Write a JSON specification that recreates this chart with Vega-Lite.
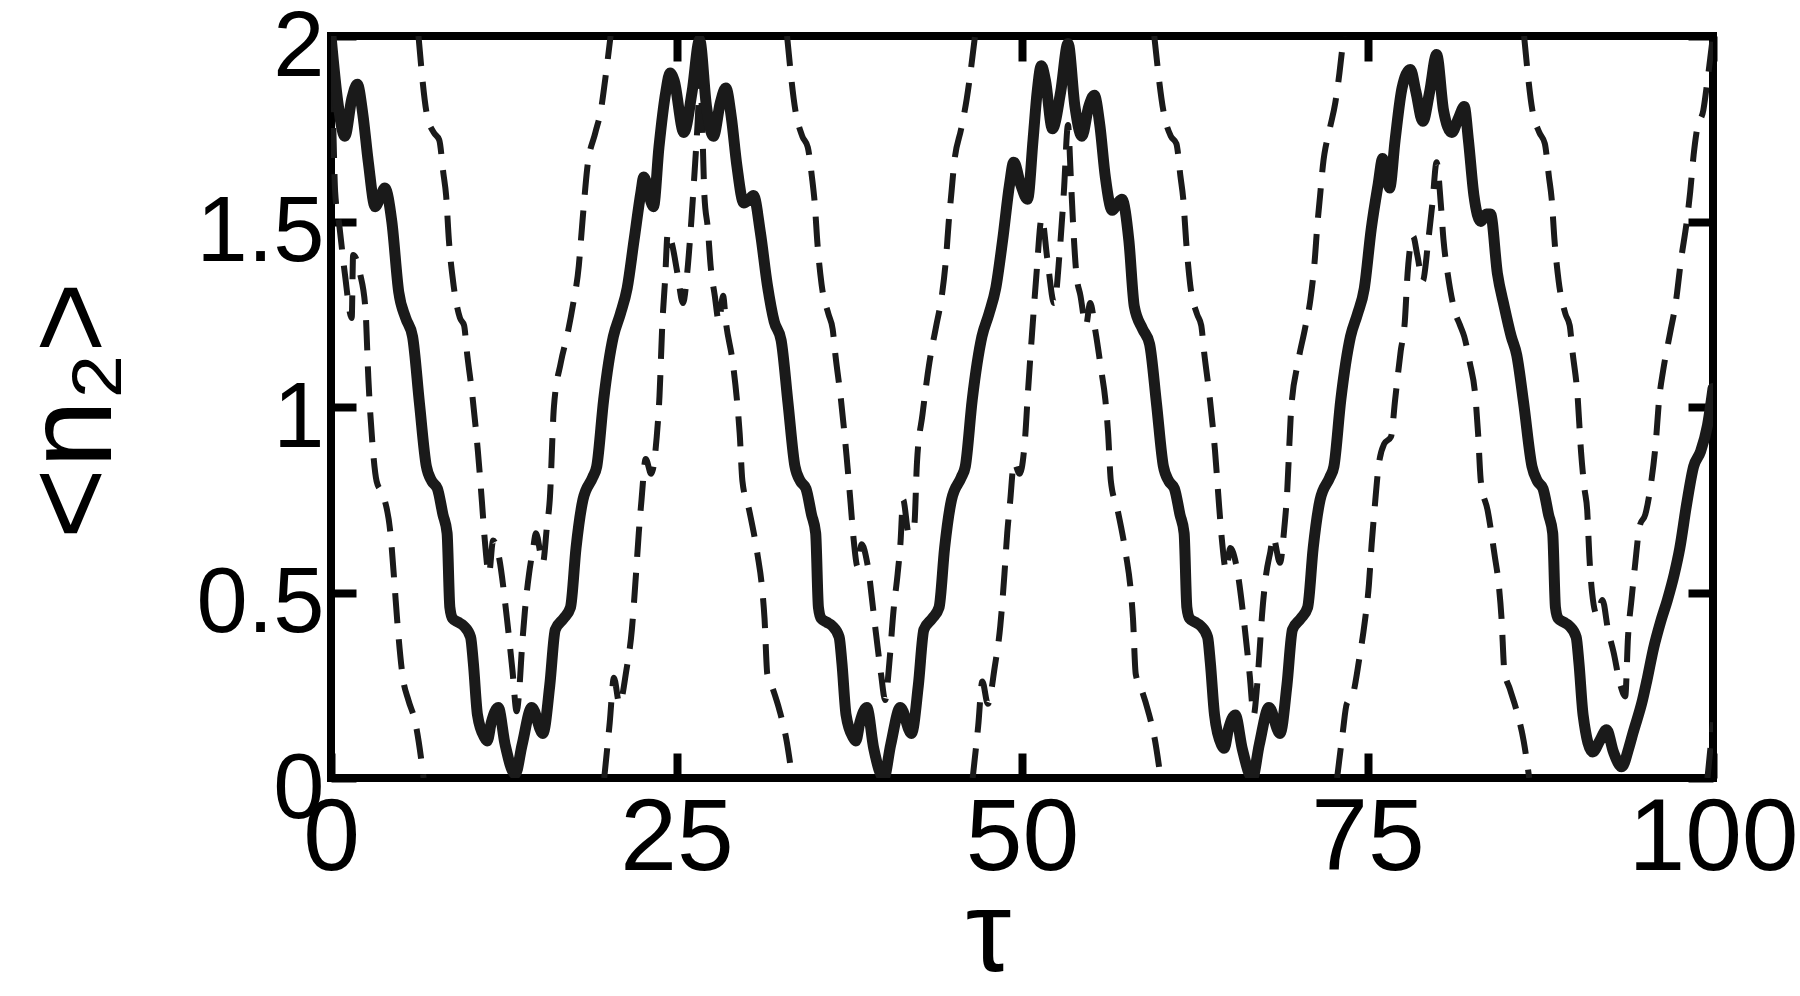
{
"$schema":"https://vega.github.io/schema/vega-lite/v6.json",
"width":1382,"height":742,
"autosize":{"type":"none"},
"padding":{"left":331,"top":36,"right":87,"bottom":218},
"background":"white",
"config":{
 "view":{"stroke":"#000000","strokeWidth":8},
 "axis":{"domain":false,"grid":false,"ticks":true,"tickColor":"#000000","tickWidth":8,"tickSize":-25,"labelColor":"#000000","labelFont":"Liberation Sans","titleFont":"Liberation Sans","titleColor":"#000000","titleFontWeight":"normal","labelFlush":false,"labelOverlap":false,"labelLimit":0}
},
"datasets":{
"mean":[
{"t":0,"v":2.0},{"t":0.5,"v":1.82},{"t":1.0,"v":1.73},{"t":1.5,"v":1.83},{"t":1.9,"v":1.87},{"t":2.3,"v":1.79},{"t":2.7,"v":1.66},{"t":3.2,"v":1.54},{"t":3.6,"v":1.57},{"t":3.9,"v":1.59},{"t":4.4,"v":1.5},{"t":4.9,"v":1.31},{"t":5.4,"v":1.24},{"t":5.9,"v":1.19},{"t":6.4,"v":1.01},{"t":6.9,"v":0.84},{"t":7.3,"v":0.8},{"t":7.7,"v":0.78},{"t":8.1,"v":0.71},{"t":8.4,"v":0.66},{"t":8.6,"v":0.46},{"t":8.8,"v":0.43},{"t":9.2,"v":0.42},{"t":9.6,"v":0.41},{"t":10.1,"v":0.38},{"t":10.3,"v":0.31},{"t":10.6,"v":0.17},{"t":11.1,"v":0.11},{"t":11.3,"v":0.1},{"t":11.6,"v":0.15},{"t":12.1,"v":0.19},{"t":12.6,"v":0.09},{"t":13.33,"v":0.01},
{"t":13.83,"v":0.09},{"t":14.53,"v":0.19},{"t":15.33,"v":0.12},{"t":15.83,"v":0.25},{"t":16.23,"v":0.4},{"t":16.83,"v":0.43},{"t":17.33,"v":0.46},{"t":17.73,"v":0.62},{"t":18.23,"v":0.75},{"t":18.93,"v":0.81},{"t":19.23,"v":0.84},{"t":19.73,"v":1.02},{"t":20.43,"v":1.19},{"t":20.93,"v":1.25},{"t":21.43,"v":1.32},{"t":21.93,"v":1.45},{"t":22.43,"v":1.58},{"t":22.63,"v":1.62},{"t":23.33,"v":1.54},{"t":23.73,"v":1.7},{"t":24.23,"v":1.85},{"t":24.53,"v":1.9},{"t":24.83,"v":1.88},{"t":25.53,"v":1.74},{"t":26.13,"v":1.85},{"t":26.67,"v":1.99},
{"t":27.17,"v":1.81},{"t":27.67,"v":1.73},{"t":28.17,"v":1.82},{"t":28.57,"v":1.86},{"t":28.97,"v":1.78},{"t":29.37,"v":1.65},{"t":29.87,"v":1.55},{"t":30.27,"v":1.56},{"t":30.57,"v":1.57},{"t":31.07,"v":1.47},{"t":31.57,"v":1.33},{"t":32.07,"v":1.23},{"t":32.57,"v":1.18},{"t":33.07,"v":1.01},{"t":33.57,"v":0.84},{"t":33.97,"v":0.8},{"t":34.37,"v":0.78},{"t":34.77,"v":0.71},{"t":35.07,"v":0.66},{"t":35.27,"v":0.46},{"t":35.47,"v":0.43},{"t":35.87,"v":0.42},{"t":36.27,"v":0.41},{"t":36.77,"v":0.38},{"t":36.97,"v":0.31},{"t":37.27,"v":0.17},{"t":37.77,"v":0.11},{"t":37.97,"v":0.1},{"t":38.27,"v":0.15},{"t":38.77,"v":0.19},{"t":39.27,"v":0.08},{"t":40.0,"v":0.0},
{"t":40.5,"v":0.09},{"t":41.2,"v":0.19},{"t":42.0,"v":0.12},{"t":42.5,"v":0.25},{"t":42.9,"v":0.4},{"t":43.5,"v":0.43},{"t":44.0,"v":0.46},{"t":44.4,"v":0.62},{"t":44.9,"v":0.75},{"t":45.6,"v":0.81},{"t":45.9,"v":0.84},{"t":46.4,"v":1.02},{"t":47.1,"v":1.19},{"t":47.6,"v":1.25},{"t":48.1,"v":1.32},{"t":48.6,"v":1.45},{"t":49.1,"v":1.6},{"t":49.4,"v":1.66},{"t":49.9,"v":1.6},{"t":50.4,"v":1.56},{"t":50.8,"v":1.72},{"t":51.1,"v":1.85},{"t":51.4,"v":1.92},{"t":51.7,"v":1.88},{"t":52.2,"v":1.75},{"t":52.8,"v":1.85},{"t":53.33,"v":1.98},
{"t":53.83,"v":1.81},{"t":54.33,"v":1.73},{"t":54.83,"v":1.81},{"t":55.23,"v":1.84},{"t":55.63,"v":1.76},{"t":56.03,"v":1.62},{"t":56.53,"v":1.53},{"t":56.93,"v":1.55},{"t":57.23,"v":1.56},{"t":57.73,"v":1.45},{"t":58.13,"v":1.27},{"t":58.73,"v":1.21},{"t":59.23,"v":1.17},{"t":59.73,"v":1.01},{"t":60.23,"v":0.84},{"t":60.63,"v":0.8},{"t":61.03,"v":0.78},{"t":61.43,"v":0.71},{"t":61.73,"v":0.66},{"t":61.93,"v":0.46},{"t":62.13,"v":0.43},{"t":62.53,"v":0.42},{"t":62.93,"v":0.41},{"t":63.43,"v":0.38},{"t":63.63,"v":0.31},{"t":63.93,"v":0.17},{"t":64.43,"v":0.09},{"t":64.63,"v":0.08},{"t":64.93,"v":0.13},{"t":65.43,"v":0.17},{"t":65.93,"v":0.08},{"t":66.67,"v":0.0},
{"t":67.17,"v":0.09},{"t":67.87,"v":0.19},{"t":68.67,"v":0.12},{"t":69.17,"v":0.25},{"t":69.57,"v":0.4},{"t":70.17,"v":0.43},{"t":70.67,"v":0.46},{"t":71.07,"v":0.62},{"t":71.57,"v":0.75},{"t":72.27,"v":0.81},{"t":72.57,"v":0.84},{"t":73.07,"v":1.02},{"t":73.77,"v":1.19},{"t":74.27,"v":1.25},{"t":74.77,"v":1.32},{"t":75.27,"v":1.48},{"t":75.77,"v":1.6},{"t":76.1,"v":1.67},{"t":76.6,"v":1.59},{"t":77.0,"v":1.72},{"t":77.5,"v":1.86},{"t":78.1,"v":1.91},{"t":78.5,"v":1.85},{"t":79.0,"v":1.77},{"t":79.5,"v":1.85},{"t":80.0,"v":1.95},
{"t":80.5,"v":1.8},{"t":81.1,"v":1.74},{"t":81.6,"v":1.78},{"t":82.0,"v":1.81},{"t":82.3,"v":1.72},{"t":82.7,"v":1.57},{"t":83.2,"v":1.5},{"t":83.6,"v":1.52},{"t":83.9,"v":1.52},{"t":84.4,"v":1.36},{"t":84.9,"v":1.27},{"t":85.4,"v":1.19},{"t":85.8,"v":1.14},{"t":86.3,"v":1.01},{"t":86.9,"v":0.84},{"t":87.3,"v":0.8},{"t":87.7,"v":0.78},{"t":88.1,"v":0.71},{"t":88.4,"v":0.66},{"t":88.6,"v":0.46},{"t":88.8,"v":0.43},{"t":89.2,"v":0.42},{"t":89.6,"v":0.41},{"t":90.1,"v":0.38},{"t":90.3,"v":0.31},{"t":90.6,"v":0.17},{"t":91.3,"v":0.07},{"t":91.8,"v":0.1},{"t":92.3,"v":0.13},{"t":92.8,"v":0.07},{"t":93.4,"v":0.03},
{"t":93.9,"v":0.08},{"t":94.2,"v":0.12},{"t":94.9,"v":0.21},{"t":95.2,"v":0.26},{"t":95.7,"v":0.35},{"t":96.2,"v":0.42},{"t":96.7,"v":0.48},{"t":97.2,"v":0.55},{"t":97.6,"v":0.62},{"t":98.1,"v":0.74},{"t":98.6,"v":0.84},{"t":99.1,"v":0.88},{"t":99.6,"v":0.95},{"t":100,"v":1.05}
],
"sd":[
{"g":"L0","t":0,"v":2.0},{"g":"L0","t":0.15,"v":1.78},{"g":"L0","t":0.3,"v":1.58},{"g":"L0","t":0.6,"v":1.49},{"g":"L0","t":1.0,"v":1.36},{"g":"L0","t":1.5,"v":1.24},{"g":"L0","t":1.6,"v":1.41},{"g":"L0","t":2.1,"v":1.36},{"g":"L0","t":2.5,"v":1.26},{"g":"L0","t":2.7,"v":1.08},{"g":"L0","t":3.0,"v":0.9},{"g":"L0","t":3.3,"v":0.8},{"g":"L0","t":3.8,"v":0.76},{"g":"L0","t":4.3,"v":0.66},{"g":"L0","t":4.6,"v":0.52},{"g":"L0","t":4.8,"v":0.42},{"g":"L0","t":5.2,"v":0.27},{"g":"L0","t":5.6,"v":0.21},{"g":"L0","t":6.1,"v":0.15},{"g":"L0","t":6.6,"v":0.03},{"g":"L0","t":6.7,"v":0.0},
{"g":"U0","t":6.33,"v":2.0},{"g":"U0","t":6.93,"v":1.79},{"g":"U0","t":7.43,"v":1.74},{"g":"U0","t":7.83,"v":1.72},{"g":"U0","t":8.13,"v":1.63},{"g":"U0","t":8.33,"v":1.57},{"g":"U0","t":8.53,"v":1.45},{"g":"U0","t":8.83,"v":1.34},{"g":"U0","t":9.33,"v":1.24},{"g":"U0","t":9.63,"v":1.22},{"g":"U0","t":9.83,"v":1.15},{"g":"U0","t":10.23,"v":1.03},{"g":"U0","t":10.63,"v":0.88},{"g":"U0","t":10.93,"v":0.74},{"g":"U0","t":11.13,"v":0.64},{"g":"U0","t":11.43,"v":0.55},{"g":"U0","t":11.73,"v":0.64},{"g":"U0","t":12.13,"v":0.6},{"g":"U0","t":12.73,"v":0.43},{"g":"U0","t":13.13,"v":0.29},{"g":"U0","t":13.43,"v":0.18},{"g":"U0","t":13.63,"v":0.24},{"g":"U0","t":13.78,"v":0.33},{"g":"U0","t":14.03,"v":0.45},{"g":"U0","t":14.33,"v":0.55},{"g":"U0","t":14.63,"v":0.62},{"g":"U0","t":14.83,"v":0.66},{"g":"U0","t":15.33,"v":0.58},{"g":"U0","t":15.63,"v":0.68},{"g":"U0","t":15.83,"v":0.75},{"g":"U0","t":16.13,"v":1.0},{"g":"U0","t":16.63,"v":1.12},{"g":"U0","t":17.13,"v":1.2},{"g":"U0","t":17.53,"v":1.28},{"g":"U0","t":17.93,"v":1.38},{"g":"U0","t":18.13,"v":1.47},{"g":"U0","t":18.33,"v":1.56},{"g":"U0","t":18.53,"v":1.64},{"g":"U0","t":19.13,"v":1.74},{"g":"U0","t":19.53,"v":1.8},{"g":"U0","t":19.83,"v":1.88},{"g":"U0","t":20.23,"v":2.0},
{"g":"L1","t":19.77,"v":0.0},{"g":"L1","t":20.17,"v":0.15},{"g":"L1","t":20.47,"v":0.27},{"g":"L1","t":20.87,"v":0.2},{"g":"L1","t":21.37,"v":0.29},{"g":"L1","t":21.77,"v":0.4},{"g":"L1","t":22.07,"v":0.55},{"g":"L1","t":22.27,"v":0.66},{"g":"L1","t":22.47,"v":0.75},{"g":"L1","t":22.77,"v":0.86},{"g":"L1","t":23.17,"v":0.82},{"g":"L1","t":23.57,"v":0.92},{"g":"L1","t":23.77,"v":1.03},{"g":"L1","t":23.97,"v":1.22},{"g":"L1","t":24.17,"v":1.34},{"g":"L1","t":24.37,"v":1.47},{"g":"L1","t":24.67,"v":1.44},{"g":"L1","t":25.07,"v":1.36},{"g":"L1","t":25.47,"v":1.28},{"g":"L1","t":25.77,"v":1.36},{"g":"L1","t":26.07,"v":1.5},{"g":"L1","t":26.32,"v":1.64},{"g":"L1","t":26.52,"v":1.76},{"g":"L1","t":26.72,"v":1.9},{"g":"L1","t":26.87,"v":1.75},{"g":"L1","t":27.02,"v":1.57},{"g":"L1","t":27.27,"v":1.48},{"g":"L1","t":27.47,"v":1.38},{"g":"L1","t":27.77,"v":1.3},{"g":"L1","t":28.07,"v":1.23},{"g":"L1","t":28.37,"v":1.3},{"g":"L1","t":28.57,"v":1.23},{"g":"L1","t":29.07,"v":1.12},{"g":"L1","t":29.37,"v":1.02},{"g":"L1","t":29.57,"v":0.93},{"g":"L1","t":29.77,"v":0.8},{"g":"L1","t":30.27,"v":0.72},{"g":"L1","t":30.87,"v":0.6},{"g":"L1","t":31.17,"v":0.52},{"g":"L1","t":31.37,"v":0.43},{"g":"L1","t":31.57,"v":0.28},{"g":"L1","t":31.97,"v":0.24},{"g":"L1","t":32.47,"v":0.18},{"g":"L1","t":32.97,"v":0.1},{"g":"L1","t":33.37,"v":0.0},
{"g":"U1","t":33.0,"v":2.0},{"g":"U1","t":33.6,"v":1.8},{"g":"U1","t":34.1,"v":1.73},{"g":"U1","t":34.5,"v":1.7},{"g":"U1","t":34.8,"v":1.62},{"g":"U1","t":35.0,"v":1.55},{"g":"U1","t":35.2,"v":1.44},{"g":"U1","t":35.5,"v":1.33},{"g":"U1","t":36.0,"v":1.25},{"g":"U1","t":36.3,"v":1.21},{"g":"U1","t":36.5,"v":1.14},{"g":"U1","t":36.9,"v":1.02},{"g":"U1","t":37.3,"v":0.87},{"g":"U1","t":37.6,"v":0.74},{"g":"U1","t":37.8,"v":0.65},{"g":"U1","t":38.1,"v":0.57},{"g":"U1","t":38.4,"v":0.63},{"g":"U1","t":38.8,"v":0.58},{"g":"U1","t":39.4,"v":0.4},{"g":"U1","t":39.8,"v":0.28},{"g":"U1","t":40.1,"v":0.21},{"g":"U1","t":40.4,"v":0.31},{"g":"U1","t":40.7,"v":0.45},{"g":"U1","t":41.0,"v":0.55},{"g":"U1","t":41.2,"v":0.63},{"g":"U1","t":41.4,"v":0.75},{"g":"U1","t":41.8,"v":0.66},{"g":"U1","t":42.2,"v":0.68},{"g":"U1","t":42.4,"v":0.85},{"g":"U1","t":42.8,"v":0.98},{"g":"U1","t":43.3,"v":1.12},{"g":"U1","t":43.8,"v":1.22},{"g":"U1","t":44.2,"v":1.3},{"g":"U1","t":44.5,"v":1.4},{"g":"U1","t":44.7,"v":1.5},{"g":"U1","t":44.9,"v":1.58},{"g":"U1","t":45.1,"v":1.66},{"g":"U1","t":45.6,"v":1.75},{"g":"U1","t":46.0,"v":1.83},{"g":"U1","t":46.3,"v":1.91},{"g":"U1","t":46.6,"v":2.0},
{"g":"L2","t":46.43,"v":0.0},{"g":"L2","t":46.83,"v":0.14},{"g":"L2","t":47.13,"v":0.26},{"g":"L2","t":47.53,"v":0.2},{"g":"L2","t":48.03,"v":0.3},{"g":"L2","t":48.43,"v":0.41},{"g":"L2","t":48.73,"v":0.55},{"g":"L2","t":48.93,"v":0.66},{"g":"L2","t":49.13,"v":0.74},{"g":"L2","t":49.43,"v":0.85},{"g":"L2","t":49.83,"v":0.82},{"g":"L2","t":50.23,"v":0.92},{"g":"L2","t":50.43,"v":1.04},{"g":"L2","t":50.73,"v":1.2},{"g":"L2","t":51.03,"v":1.35},{"g":"L2","t":51.43,"v":1.51},{"g":"L2","t":51.83,"v":1.4},{"g":"L2","t":52.33,"v":1.28},{"g":"L2","t":52.73,"v":1.42},{"g":"L2","t":53.03,"v":1.58},{"g":"L2","t":53.33,"v":1.76},{"g":"L2","t":53.53,"v":1.62},{"g":"L2","t":53.73,"v":1.47},{"g":"L2","t":53.93,"v":1.36},{"g":"L2","t":54.23,"v":1.3},{"g":"L2","t":54.63,"v":1.22},{"g":"L2","t":54.93,"v":1.28},{"g":"L2","t":55.33,"v":1.2},{"g":"L2","t":55.73,"v":1.1},{"g":"L2","t":56.03,"v":1.02},{"g":"L2","t":56.23,"v":0.93},{"g":"L2","t":56.43,"v":0.8},{"g":"L2","t":56.93,"v":0.72},{"g":"L2","t":57.53,"v":0.6},{"g":"L2","t":57.83,"v":0.52},{"g":"L2","t":58.03,"v":0.43},{"g":"L2","t":58.23,"v":0.28},{"g":"L2","t":58.63,"v":0.24},{"g":"L2","t":59.13,"v":0.18},{"g":"L2","t":59.63,"v":0.1},{"g":"L2","t":60.03,"v":0.0},
{"g":"U2","t":59.57,"v":2.0},{"g":"U2","t":60.27,"v":1.79},{"g":"U2","t":60.77,"v":1.73},{"g":"U2","t":61.17,"v":1.71},{"g":"U2","t":61.47,"v":1.62},{"g":"U2","t":61.67,"v":1.56},{"g":"U2","t":61.87,"v":1.45},{"g":"U2","t":62.17,"v":1.33},{"g":"U2","t":62.67,"v":1.25},{"g":"U2","t":62.97,"v":1.22},{"g":"U2","t":63.17,"v":1.15},{"g":"U2","t":63.57,"v":1.03},{"g":"U2","t":63.97,"v":0.88},{"g":"U2","t":64.27,"v":0.73},{"g":"U2","t":64.47,"v":0.64},{"g":"U2","t":64.77,"v":0.56},{"g":"U2","t":65.07,"v":0.62},{"g":"U2","t":65.47,"v":0.58},{"g":"U2","t":66.07,"v":0.42},{"g":"U2","t":66.47,"v":0.28},{"g":"U2","t":66.77,"v":0.17},{"g":"U2","t":66.97,"v":0.23},{"g":"U2","t":67.17,"v":0.33},{"g":"U2","t":67.37,"v":0.44},{"g":"U2","t":67.67,"v":0.55},{"g":"U2","t":67.97,"v":0.61},{"g":"U2","t":68.17,"v":0.65},{"g":"U2","t":68.67,"v":0.58},{"g":"U2","t":68.97,"v":0.67},{"g":"U2","t":69.17,"v":0.76},{"g":"U2","t":69.47,"v":0.99},{"g":"U2","t":69.97,"v":1.12},{"g":"U2","t":70.47,"v":1.21},{"g":"U2","t":70.87,"v":1.29},{"g":"U2","t":71.17,"v":1.39},{"g":"U2","t":71.37,"v":1.49},{"g":"U2","t":71.57,"v":1.57},{"g":"U2","t":71.77,"v":1.65},{"g":"U2","t":72.27,"v":1.75},{"g":"U2","t":72.67,"v":1.82},{"g":"U2","t":72.97,"v":1.9},{"g":"U2","t":73.27,"v":2.0},
{"g":"L3","t":72.8,"v":0.0},{"g":"L3","t":73.2,"v":0.12},{"g":"L3","t":73.5,"v":0.2},{"g":"L3","t":73.9,"v":0.22},{"g":"L3","t":74.4,"v":0.32},{"g":"L3","t":74.8,"v":0.42},{"g":"L3","t":75.1,"v":0.52},{"g":"L3","t":75.3,"v":0.63},{"g":"L3","t":75.5,"v":0.72},{"g":"L3","t":75.8,"v":0.84},{"g":"L3","t":76.2,"v":0.9},{"g":"L3","t":76.7,"v":0.92},{"g":"L3","t":77.0,"v":1.02},{"g":"L3","t":77.4,"v":1.15},{"g":"L3","t":77.7,"v":1.23},{"g":"L3","t":77.9,"v":1.36},{"g":"L3","t":78.3,"v":1.46},{"g":"L3","t":78.6,"v":1.41},{"g":"L3","t":79.0,"v":1.34},{"g":"L3","t":79.4,"v":1.45},{"g":"L3","t":79.7,"v":1.55},{"g":"L3","t":80.0,"v":1.66},{"g":"L3","t":80.3,"v":1.55},{"g":"L3","t":80.5,"v":1.45},{"g":"L3","t":80.8,"v":1.36},{"g":"L3","t":81.3,"v":1.26},{"g":"L3","t":81.7,"v":1.22},{"g":"L3","t":82.0,"v":1.19},{"g":"L3","t":82.4,"v":1.12},{"g":"L3","t":82.8,"v":1.03},{"g":"L3","t":83.0,"v":0.93},{"g":"L3","t":83.2,"v":0.8},{"g":"L3","t":83.7,"v":0.72},{"g":"L3","t":84.2,"v":0.6},{"g":"L3","t":84.5,"v":0.52},{"g":"L3","t":84.7,"v":0.43},{"g":"L3","t":84.9,"v":0.29},{"g":"L3","t":85.3,"v":0.24},{"g":"L3","t":85.8,"v":0.18},{"g":"L3","t":86.3,"v":0.1},{"g":"L3","t":86.7,"v":0.0},
{"g":"U3","t":86.33,"v":2.0},{"g":"U3","t":86.93,"v":1.8},{"g":"U3","t":87.43,"v":1.74},{"g":"U3","t":87.83,"v":1.71},{"g":"U3","t":88.13,"v":1.62},{"g":"U3","t":88.33,"v":1.56},{"g":"U3","t":88.53,"v":1.45},{"g":"U3","t":88.83,"v":1.34},{"g":"U3","t":89.33,"v":1.25},{"g":"U3","t":89.63,"v":1.22},{"g":"U3","t":89.83,"v":1.15},{"g":"U3","t":90.2,"v":1.03},{"g":"U3","t":90.45,"v":0.88},{"g":"U3","t":90.7,"v":0.78},{"g":"U3","t":90.9,"v":0.72},{"g":"U3","t":91.05,"v":0.6},{"g":"U3","t":91.25,"v":0.5},{"g":"U3","t":91.6,"v":0.44},{"g":"U3","t":92.0,"v":0.48},{"g":"U3","t":92.4,"v":0.4},{"g":"U3","t":92.8,"v":0.34},{"g":"U3","t":93.3,"v":0.25},{"g":"U3","t":93.65,"v":0.22},{"g":"U3","t":93.85,"v":0.38},{"g":"U3","t":94.1,"v":0.48},{"g":"U3","t":94.35,"v":0.57},{"g":"U3","t":94.7,"v":0.68},{"g":"U3","t":95.1,"v":0.71},{"g":"U3","t":95.5,"v":0.79},{"g":"U3","t":95.85,"v":0.9},{"g":"U3","t":96.1,"v":1.02},{"g":"U3","t":96.4,"v":1.1},{"g":"U3","t":96.9,"v":1.2},{"g":"U3","t":97.3,"v":1.28},{"g":"U3","t":97.7,"v":1.4},{"g":"U3","t":98.1,"v":1.5},{"g":"U3","t":98.35,"v":1.58},{"g":"U3","t":98.6,"v":1.68},{"g":"U3","t":98.85,"v":1.75},{"g":"U3","t":99.3,"v":1.8},{"g":"U3","t":99.6,"v":1.88},{"g":"U3","t":99.9,"v":1.97},{"g":"U3","t":100,"v":2.0},
{"g":"L4","t":99.6,"v":0.0},{"g":"L4","t":100,"v":0.15}
]
},
"layer":[
{"data":{"name":"sd"},
 "mark":{"type":"line","clip":true,"color":"#1a1a1a","strokeWidth":6,"strokeDash":[30,16],"interpolate":"monotone"},
 "encoding":{
  "x":{"field":"t","type":"quantitative","scale":{"domain":[0,100],"nice":false,"zero":false},"axis":{"orient":"top","values":[0,25,50,75,100],"labels":false,"title":null}},
  "y":{"field":"v","type":"quantitative","scale":{"domain":[0,2],"nice":false,"zero":false},"axis":{"orient":"right","values":[0,0.5,1,1.5,2],"labels":false,"title":null}},
  "detail":{"field":"g","type":"nominal"}
 }},
{"data":{"name":"mean"},
 "mark":{"type":"line","clip":true,"color":"#1a1a1a","strokeWidth":11,"strokeJoin":"round","strokeCap":"round","interpolate":"monotone"},
 "encoding":{
  "x":{"field":"t","type":"quantitative","scale":{"domain":[0,100],"nice":false,"zero":false},"axis":{"orient":"bottom","values":[0,25,50,75,100],"labelExpr":"datum.value + ''","labelFontSize":102,"labelPadding":35,"title":"τ","titleFontSize":115,"titleX":657,"titleY":192,"titleBaseline":"alphabetic","titleAlign":"center"}},
  "y":{"field":"v","type":"quantitative","scale":{"domain":[0,2],"nice":false,"zero":false},"axis":{"orient":"left","values":[0,0.5,1,1.5,2],"labelExpr":"datum.value + ''","labelFontSize":92,"labelPadding":32,"labelOffset":11,"title":"<n₂>","titleFontSize":122,"titleX":-221,"titleY":374,"titleAngle":-90,"titleBaseline":"alphabetic","titleAlign":"center"}}
 }}
],
"resolve":{"scale":{"x":"independent","y":"independent"},"axis":{"x":"independent","y":"independent"}}
}
